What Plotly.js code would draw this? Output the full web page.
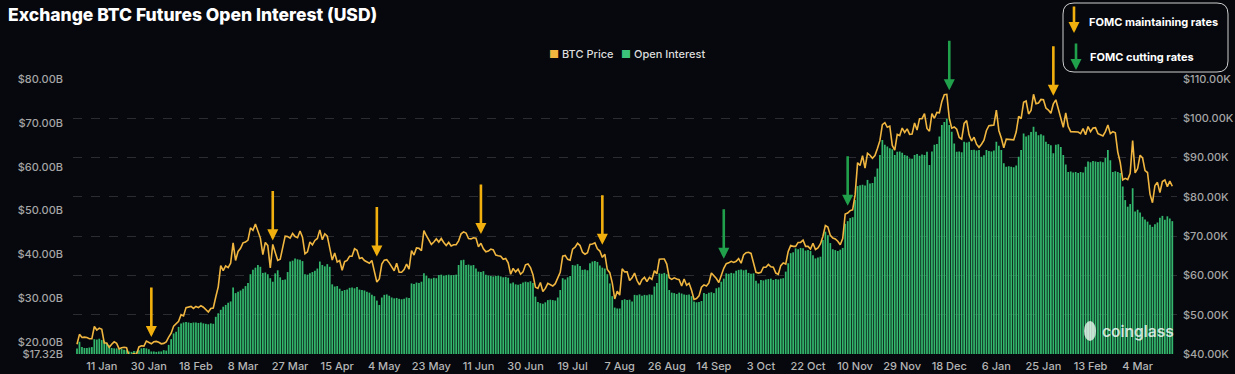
<!DOCTYPE html>
<html><head><meta charset="utf-8">
<script src="https://cdn.plot.ly/plotly-3.0.1.min.js"></script>
<style>html,body{margin:0;padding:0;background:#06080d;}#chart{width:1235px;height:374px;}</style>
</head><body><div id="chart"></div>
<script>
// ---- data (daily) ----
const monthKeys = ['2024-01','2024-02','2024-03','2024-04','2024-05','2024-06','2024-07','2024-08','2024-09','2024-10','2024-11','2024-12','2025-01','2025-02','2025-03'];

// BTC price, thousands USD
const price_2024_01 = [42.5,45.0,44.2,44.3,44.2,43.9,43.9,47.0,46.1,46.6,46.3,42.8,42.8,41.7,42.5,43.1,42.7,41.3,41.6,41.7,41.6,39.5,39.8,40.1,39.9,41.8,42.1,42.0,43.3,42.9,42.6];
const price_2024_02 = [43.1,43.2,43.0,42.6,42.7,43.1,44.3,45.3,47.1,47.8,48.3,50.0,49.7,51.8,51.9,52.1,51.6,52.1,51.8,52.3,51.9,51.3,50.7,51.6,51.7,54.5,57.1,62.5,61.2];
const price_2024_03 = [62.4,62.0,63.1,68.3,63.8,66.1,66.9,68.3,68.5,69.0,72.1,71.5,73.1,71.4,69.5,65.3,68.4,67.6,61.9,67.9,65.5,63.8,64.1,67.2,70.0,69.9,69.5,70.7,69.9,69.6,71.3];
const price_2024_04 = [69.7,65.5,66.0,68.5,67.8,68.9,69.4,71.6,69.1,70.6,70.0,67.1,63.9,65.7,63.4,63.8,61.3,63.5,63.8,64.9,64.9,66.8,66.4,64.3,64.5,63.8,63.4,63.1,63.8,60.6];
const price_2024_05 = [58.3,59.1,62.9,63.9,64.0,63.2,62.3,61.2,63.1,60.8,60.8,61.5,62.9,61.6,66.3,65.2,67.0,66.9,66.3,71.4,70.1,69.1,67.9,68.5,69.3,68.5,69.4,68.4,67.6,68.4,67.5];
const price_2024_06 = [67.8,67.8,68.8,70.6,71.1,70.8,69.4,69.3,69.6,69.5,67.3,68.2,66.8,66.0,66.2,66.7,66.5,65.2,65.0,64.9,64.1,64.3,63.2,60.3,61.8,60.9,61.6,60.3,60.9,62.7];
const price_2024_07 = [62.9,62.0,60.2,57.0,56.7,58.2,55.9,56.7,58.0,57.7,57.3,57.9,59.2,60.8,64.9,65.1,64.1,63.9,66.7,67.2,68.2,67.6,65.9,65.4,65.8,67.9,68.0,68.3,66.8,66.2,64.6];
const price_2024_08 = [65.4,61.5,60.7,58.1,54.0,56.0,55.0,61.7,60.9,60.9,58.7,59.4,60.6,58.7,57.6,58.9,59.5,58.4,59.5,59.0,61.2,60.4,64.1,64.2,64.2,62.9,59.4,59.0,59.4,59.1,58.9];
const price_2024_09 = [57.3,59.1,57.5,58.0,56.2,53.9,54.1,54.8,57.0,57.6,57.3,58.1,60.6,60.0,59.2,58.2,60.3,61.8,63.0,63.2,63.6,63.3,63.6,64.3,63.1,65.2,65.8,65.9,65.6,63.3];
const price_2024_10 = [60.8,60.6,60.8,62.1,62.1,62.8,62.2,62.1,60.6,60.3,62.5,63.2,62.9,66.1,67.6,67.4,67.4,68.4,68.4,69.0,67.4,67.4,66.7,68.2,66.6,67.0,68.0,69.9,72.7,72.3,70.2];
const price_2024_11 = [69.5,69.3,68.7,67.8,69.4,75.6,75.9,76.5,76.7,80.5,88.7,88.0,90.5,87.3,91.1,90.6,89.8,90.5,92.3,94.3,98.4,98.9,97.7,98.0,93.1,91.9,95.9,95.6,97.5,96.4];
const price_2024_12 = [97.3,95.9,96.0,98.8,97.0,99.9,99.9,101.2,97.4,96.7,101.2,100.0,101.5,101.4,104.3,106.0,106.1,100.0,97.5,97.8,97.2,95.1,94.7,98.7,99.4,95.8,94.2,95.2,93.4,92.6,93.4];
const price_2025_01 = [94.4,96.9,98.1,98.2,98.3,102.1,96.9,95.0,92.5,94.7,94.6,94.5,94.5,96.5,100.5,99.9,104.1,104.4,101.1,102.0,106.1,103.7,103.9,104.8,104.7,102.6,102.1,101.3,103.7,104.7,102.4];
const price_2025_02 = [100.6,97.7,101.4,97.9,96.6,96.6,96.5,96.5,96.1,97.4,95.8,97.9,96.6,97.5,97.6,96.1,95.8,95.5,96.6,98.3,96.1,96.6,96.3,91.4,88.7,84.3,84.7,84.4];
const price_2025_03 = [86.0,94.3,86.1,87.2,90.6,89.9,86.7,86.2,80.7,78.5,82.9,83.7,81.1,83.9,84.3,82.6,84.0,82.7];

// Open interest, billions USD
const oi_2024_01 = [18.6,20.1,18.9,18.7,18.7,18.8,18.9,20.7,20.6,20.8,20.5,20.3,19.8,19.3,18.7,18.6,18.6,18.4,18.5,18.3,18.2,17.9,17.8,18.0,17.9,18.2,18.6,18.7,18.6,18.4,17.9];
const oi_2024_02 = [17.9,17.8,17.9,17.9,18.2,18.1,19.4,20.7,22.0,22.4,23.5,24.3,24.5,24.6,24.5,24.4,24.5,24.5,24.4,24.5,24.3,24.2,24.1,24.3,24.2,25.8,26.6,27.4,28.1];
const oi_2024_03 = [28.5,29.0,29.3,32.5,31.2,31.5,31.8,32.2,32.8,33.5,35.5,36.5,37.0,37.6,37.2,35.8,35.9,35.5,34.6,33.8,35.7,36.4,34.8,34.2,34.3,36.0,38.4,38.6,39.1,38.9,38.8];
const oi_2024_04 = [38.5,35.5,35.4,35.7,36.0,36.3,36.8,38.4,37.6,37.3,37.8,37.2,33.2,32.7,32.8,32.2,31.7,31.9,32.0,32.4,32.5,32.3,32.6,32.0,31.9,31.8,31.5,31.3,30.8,30.5];
const oi_2024_05 = [29.5,28.5,30.2,30.8,30.9,30.6,30.2,30.0,30.1,29.9,29.8,29.9,30.2,30.1,33.4,33.3,33.6,33.5,33.8,35.7,35.2,34.6,34.5,34.7,34.6,35.3,35.4,35.2,35.3,35.4,35.3];
const oi_2024_06 = [35.3,35.4,37.6,38.7,38.8,37.6,37.7,37.5,37.6,36.8,36.1,36.0,36.2,35.4,35.2,35.1,35.0,35.1,35.2,35.0,34.8,34.9,34.7,33.4,33.6,33.2,33.1,33.3,33.6,33.8];
const oi_2024_07 = [33.7,33.9,33.5,30.4,29.2,28.9,28.8,29.1,29.6,29.7,29.6,29.5,30.2,31.9,34.6,34.3,34.8,35.1,37.6,37.5,37.8,37.4,36.5,36.6,36.4,38.0,38.4,38.5,38.3,37.5,37.0];
const oi_2024_08 = [36.8,35.5,33.4,30.5,27.9,27.7,27.7,29.6,29.8,29.6,29.7,29.3,30.8,30.7,30.9,30.6,30.8,30.7,30.9,30.8,32.7,33.5,35.7,35.6,35.8,35.5,31.9,31.3,31.2,31.0,31.3];
const oi_2024_09 = [31.1,30.9,30.8,30.9,30.5,29.3,29.1,29.2,29.4,31.2,31.0,31.3,31.4,31.2,32.3,32.5,33.8,34.5,35.7,35.6,35.8,35.7,36.3,36.5,36.6,36.4,36.5,35.8,35.6,35.7];
const oi_2024_10 = [34.0,33.4,34.2,34.1,34.3,34.4,34.5,34.2,34.4,34.3,34.5,34.6,36.1,38.0,40.3,40.5,41.4,41.2,41.5,41.4,40.9,41.0,40.8,39.8,39.1,39.3,39.5,43.3,45.2,44.4,42.6];
const oi_2024_11 = [41.2,41.0,40.8,41.1,41.5,47.0,47.6,48.3,48.5,52.4,55.6,55.8,55.9,55.7,57.0,56.2,56.3,57.7,59.6,62.7,66.1,65.0,64.6,64.2,64.0,62.7,63.4,63.5,63.2,62.7];
const oi_2024_12 = [62.5,61.9,61.8,62.7,62.9,62.5,62.8,62.7,63.4,60.4,63.5,65.0,65.2,66.9,69.5,70.2,71.0,69.5,68.0,65.3,63.4,63.5,63.3,65.7,65.5,65.7,63.8,63.9,63.7,63.8,62.3];
const oi_2025_01 = [62.6,63.8,63.6,63.5,63.7,65.7,64.8,63.8,60.8,60.0,60.1,60.0,59.9,60.3,62.3,63.8,67.6,66.9,67.2,67.9,69.1,68.0,67.2,67.4,67.1,65.7,65.2,64.9,63.1,65.0,65.1];
const oi_2025_02 = [64.5,62.7,60.5,58.8,58.9,58.7,58.8,58.6,58.8,58.7,60.0,61.2,61.0,61.3,61.2,61.1,61.2,61.0,62.0,63.8,61.5,58.8,59.0,58.8,58.6,55.5,52.4,50.9];
const oi_2025_03 = [51.5,55.1,49.8,50.2,49.6,48.6,48.0,47.5,46.8,46.3,46.9,47.3,48.4,48.8,47.9,48.7,48.2,47.6];

const priceMonths = [price_2024_01,price_2024_02,price_2024_03,price_2024_04,price_2024_05,price_2024_06,price_2024_07,price_2024_08,price_2024_09,price_2024_10,price_2024_11,price_2024_12,price_2025_01,price_2025_02,price_2025_03];
const oiMonths = [oi_2024_01,oi_2024_02,oi_2024_03,oi_2024_04,oi_2024_05,oi_2024_06,oi_2024_07,oi_2024_08,oi_2024_09,oi_2024_10,oi_2024_11,oi_2024_12,oi_2025_01,oi_2025_02,oi_2025_03];

// axes
const xTickDates = ['2024-01-11','2024-01-30','2024-02-18','2024-03-08','2024-03-27','2024-04-15','2024-05-04','2024-05-23','2024-06-11','2024-06-30','2024-07-19','2024-08-07','2024-08-26','2024-09-14','2024-10-03','2024-10-22','2024-11-10','2024-11-29','2024-12-18','2025-01-06','2025-01-25','2025-02-13','2025-03-04'];
const xTickText = ['11 Jan','30 Jan','18 Feb','8 Mar','27 Mar','15 Apr','4 May','23 May','11 Jun','30 Jun','19 Jul','7 Aug','26 Aug','14 Sep','3 Oct','22 Oct','10 Nov','29 Nov','18 Dec','6 Jan','25 Jan','13 Feb','4 Mar'];
const oiTickVals = [17.32,20,30,40,50,60,70,80];
const oiTickText = ['$17.32B','$20.00B','$30.00B','$40.00B','$50.00B','$60.00B','$70.00B','$80.00B'];
const priceTickVals = [40,50,60,70,80,90,100,110];
const priceTickText = ['$40.00K','$50.00K','$60.00K','$70.00K','$80.00K','$90.00K','$100.00K','$110.00K'];

// FOMC decisions
const fomcHold = ['2024-01-31','2024-03-20','2024-05-01','2024-06-12','2024-07-31','2025-01-29'];
const fomcCut = ['2024-09-18','2024-11-07','2024-12-18'];

// ---- build series ----
const dates = [], price = [], oi = [];
monthKeys.forEach((mk, i) => {
  priceMonths[i].forEach((v, j) => {
    dates.push(mk + '-' + String(j + 1).padStart(2, '0'));
    price.push(v);
    oi.push(oiMonths[i][j]);
  });
});
function peakNear(d) {
  const k = dates.indexOf(d);
  let m = -Infinity;
  for (let t = Math.max(0, k - 2); t <= Math.min(dates.length - 1, k + 2); t++) m = Math.max(m, price[t]);
  return m;
}

const ORANGE_LINE = '#f0b640', GREEN_BAR = '#33b76d', ORANGE_ARW = '#f2b00e', GREEN_ARW = '#21a04c';
const FONT = 'Inter, "Noto Sans", sans-serif';

// plot frame in px (for layout decorations)
const W = 1235, H = 374, L = 73, R = 58, T = 79, B = 20;
const pw = W - L - R, ph = H - T - B;
const px = x => (x - L) / pw, py = y => (H - B - y) / ph;

const arrowAnn = (d, col) => ({
  x: d, y: peakNear(d), xref: 'x', yref: 'y2', text: '', showarrow: true,
  arrowhead: 2, arrowsize: 0.85, arrowwidth: 2.6, arrowcolor: col, ax: 0, ay: -55, standoff: 4
});

// rounded legend box
function roundRect(x0, y0, x1, y1, r) {
  const rx = r / pw, ry = r / ph;
  const a = px(x0), b = px(x1), top = py(y0), bot = py(y1);
  return `M${a+rx},${top} L${b-rx},${top} Q${b},${top} ${b},${top-ry} L${b},${bot+ry} Q${b},${bot} ${b-rx},${bot} L${a+rx},${bot} Q${a},${bot} ${a},${bot+ry} L${a},${top-ry} Q${a},${top} ${a+rx},${top} Z`;
}

const annotations = [
  ...fomcHold.map(d => arrowAnn(d, ORANGE_ARW)),
  ...fomcCut.map(d => arrowAnn(d, GREEN_ARW)),
  // legend box content
  {xref:'paper', yref:'paper', x: px(1074), y: py(33), text:'', showarrow:true, arrowhead:2, arrowsize:0.85, arrowwidth:2.6, arrowcolor: ORANGE_ARW, ax:0, ay:-28},
  {xref:'paper', yref:'paper', x: px(1076), y: py(70), text:'', showarrow:true, arrowhead:2, arrowsize:0.85, arrowwidth:2.6, arrowcolor: GREEN_ARW, ax:0, ay:-28},
  {xref:'paper', yref:'paper', x: px(1087), y: py(22), xanchor:'left', yanchor:'middle', showarrow:false, text:'FOMC maintaining rates', font:{family:FONT, size:11, color:'#ffffff', weight:700}},
  {xref:'paper', yref:'paper', x: px(1088), y: py(57), xanchor:'left', yanchor:'middle', showarrow:false, text:'FOMC cutting rates', font:{family:FONT, size:11, color:'#ffffff', weight:700}},
  // series legend
  {xref:'paper', yref:'paper', x: px(547), y: py(54), xanchor:'left', yanchor:'middle', showarrow:false, text:'<span style="color:'+ORANGE_LINE+'">■</span> BTC Price', font:{family:FONT, size:11, color:'#dcdcdc', weight:500}},
  {xref:'paper', yref:'paper', x: px(619), y: py(54), xanchor:'left', yanchor:'middle', showarrow:false, text:'<span style="color:#3dc47c">■</span> Open Interest', font:{family:FONT, size:11, color:'#dcdcdc', weight:500}},
  // watermark
  {xref:'paper', yref:'paper', x: px(1176), y: py(331), xanchor:'right', yanchor:'middle', showarrow:false, text:'coinglass', font:{family:FONT, size:15.5, color:'rgba(255,255,255,0.78)', weight:600}}
];

const traces = [
  {type:'bar', x: dates, y: oi, yaxis:'y', marker:{color: GREEN_BAR, line:{width:0}}, name:'Open Interest', hoverinfo:'skip'},
  {type:'scatter', mode:'lines', x: dates, y: price, yaxis:'y2', line:{color: ORANGE_LINE, width:1.6}, name:'BTC Price', hoverinfo:'skip'}
];

const layout = {
  width: W, height: H,
  margin: {l: L, r: R, t: T, b: B, pad: 0},
  paper_bgcolor: '#06080d', plot_bgcolor: '#06080d',
  showlegend: false, bargap: 0.3,
  title: {text:'Exchange BTC Futures Open Interest (USD)', x: 8 / W, xanchor:'left', xref:'container', y: 1 - 15 / H, yref:'container', yanchor:'middle', font:{family:FONT, size:17.5, color:'#ffffff', weight:800}},
  xaxis: {type:'date', range:['2023-12-30 09:20','2025-03-19 21:30'], tickvals: xTickDates, ticktext: xTickText, showgrid:false, zeroline:false, showline:false, ticks:'', ticklabelstandoff: 4, tickfont:{family:FONT, size:11, color:'#b5b5b5', weight:500}},
  yaxis: {range:[17.32, 80], tickvals: oiTickVals, ticktext: oiTickText, showgrid:false, zeroline:false, showline:false, ticks:'', ticklabelstandoff: 9, tickfont:{family:FONT, size:11, color:'#a5a5a5', weight:500}},
  yaxis2: {overlaying:'y', side:'right', range:[40, 110], tickvals: priceTickVals, ticktext: priceTickText, showgrid:true, gridcolor:'#2a2c31', griddash:'dash', gridwidth:1, zeroline:false, showline:false, ticks:'', ticklabelstandoff: 5, tickfont:{family:FONT, size:11, color:'#a5a5a5', weight:500}},
  shapes: [
    {type:'path', xref:'paper', yref:'paper', path: roundRect(1063, 3, 1228, 72, 11), line:{color:'#cfcfcf', width:1}, fillcolor:'rgba(0,0,0,0)', layer:'above'},
    {type:'circle', xref:'paper', yref:'paper', x0: px(1084), x1: px(1096), y0: py(341), y1: py(321), line:{width:0}, fillcolor:'rgba(255,255,255,0.72)', layer:'above'}
  ],
  annotations
};

Plotly.newPlot('chart', traces, layout, {staticPlot:true, displayModeBar:false});
</script></body></html>
